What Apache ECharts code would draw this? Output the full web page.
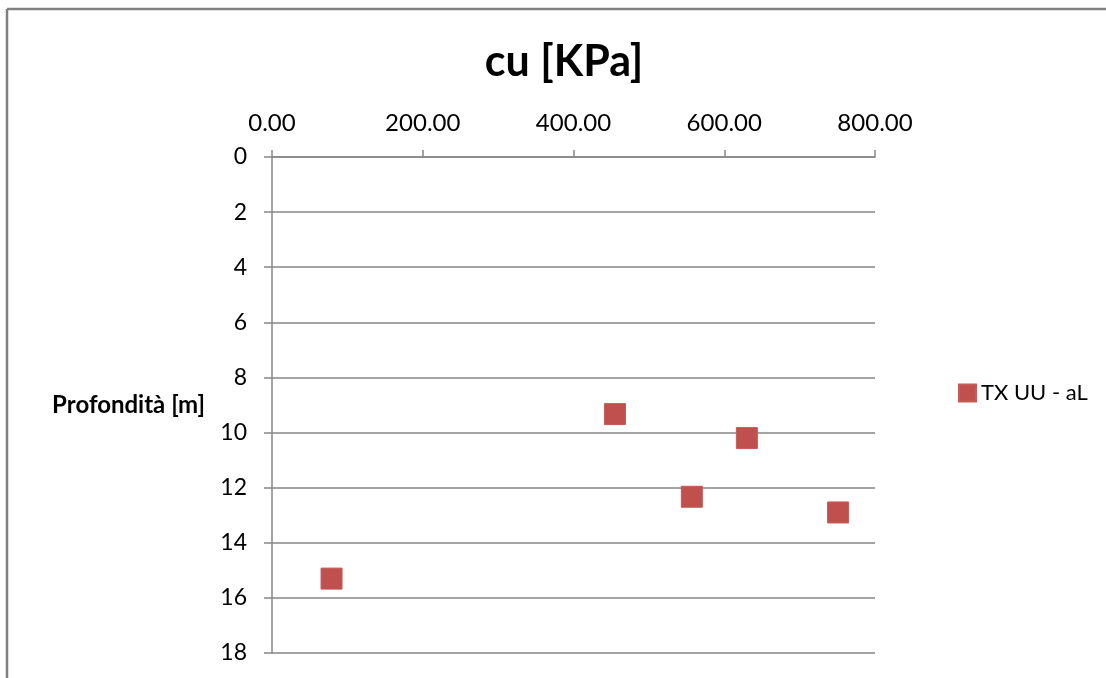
<!DOCTYPE html>
<html>
<head>
<meta charset="utf-8">
<script src="https://cdn.jsdelivr.net/npm/echarts@6/dist/echarts.min.js"></script>
<style>
  html, body { margin: 0; padding: 0; background: #fff; }
  #chart { width: 1106px; height: 678px; }
</style>
</head>
<body>
<div id="chart"></div>
<script>
// Undrained shear strength (cu) versus depth
const seriesName = 'TX UU - aL';
const cuValues = [455, 630, 557, 751, 79];        // kPa
const depthValues = [9.33, 10.2, 12.33, 12.9, 15.3]; // m
const xTicks = [0, 200, 400, 600, 800];
const yTicks = [0, 2, 4, 6, 8, 10, 12, 14, 16, 18];

const points = cuValues.map((v, i) => [v, depthValues[i]]);
const font = 'Lato, "Open Sans", sans-serif';
const axisGray = '#868686';

const chart = echarts.init(document.getElementById('chart'));
chart.setOption({
  backgroundColor: '#fff',
  animation: false,
  title: {
    text: 'cu [KPa]',
    left: 559, top: 36, textAlign: 'center',
    textStyle: { fontFamily: font, fontWeight: 'bold', fontSize: 43, color: '#000' }
  },
  legend: {
    data: [seriesName],
    left: 953, top: 377,
    itemWidth: 17, itemHeight: 17, itemGap: 6,
    textStyle: { fontFamily: font, fontSize: 22, color: '#000' }
  },
  grid: { left: 272, right: 231, top: 157, bottom: 25 },
  xAxis: {
    type: 'value', position: 'top',
    min: xTicks[0], max: xTicks[xTicks.length - 1], interval: 200,
    axisLine: { show: true, lineStyle: { color: axisGray, width: 1.5 } },
    axisTick: { show: true, length: 7, lineStyle: { color: axisGray, width: 1.5 } },
    splitLine: { show: false },
    axisLabel: { margin: 22, fontFamily: font, fontSize: 24, color: '#000',
                 formatter: v => v.toFixed(2) }
  },
  yAxis: {
    type: 'value', inverse: true,
    min: yTicks[0], max: yTicks[yTicks.length - 1], interval: 2,
    name: 'Profondità [m]', nameLocation: 'middle', nameRotate: 0, nameGap: 67,
    nameTextStyle: { fontFamily: font, fontWeight: 'bold', fontSize: 24, color: '#000',
                     padding: [14, 0, 0, 0] },
    axisLine: { show: true, lineStyle: { color: axisGray, width: 1.5 } },
    axisTick: { show: true, length: 8, lineStyle: { color: axisGray, width: 1.5 } },
    splitLine: { show: true, lineStyle: { color: axisGray, width: 1.5 } },
    axisLabel: { margin: 25, fontFamily: font, fontSize: 23, color: '#000' }
  },
  series: [{
    name: seriesName,
    type: 'scatter',
    symbol: 'rect',
    symbolSize: 21,
    itemStyle: { color: '#c0504d', opacity: 1, borderColor: '#c65a57', borderWidth: 1 },
    data: points
  }],
  graphic: [
    { type: 'line', shape: { x1: 7, y1: 9, x2: 1106, y2: 9 },
      style: { stroke: '#808080', lineWidth: 2.5 }, silent: true },
    { type: 'line', shape: { x1: 7, y1: 9, x2: 7, y2: 678 },
      style: { stroke: '#808080', lineWidth: 2.5 }, silent: true }
  ]
});
</script>
</body>
</html>
